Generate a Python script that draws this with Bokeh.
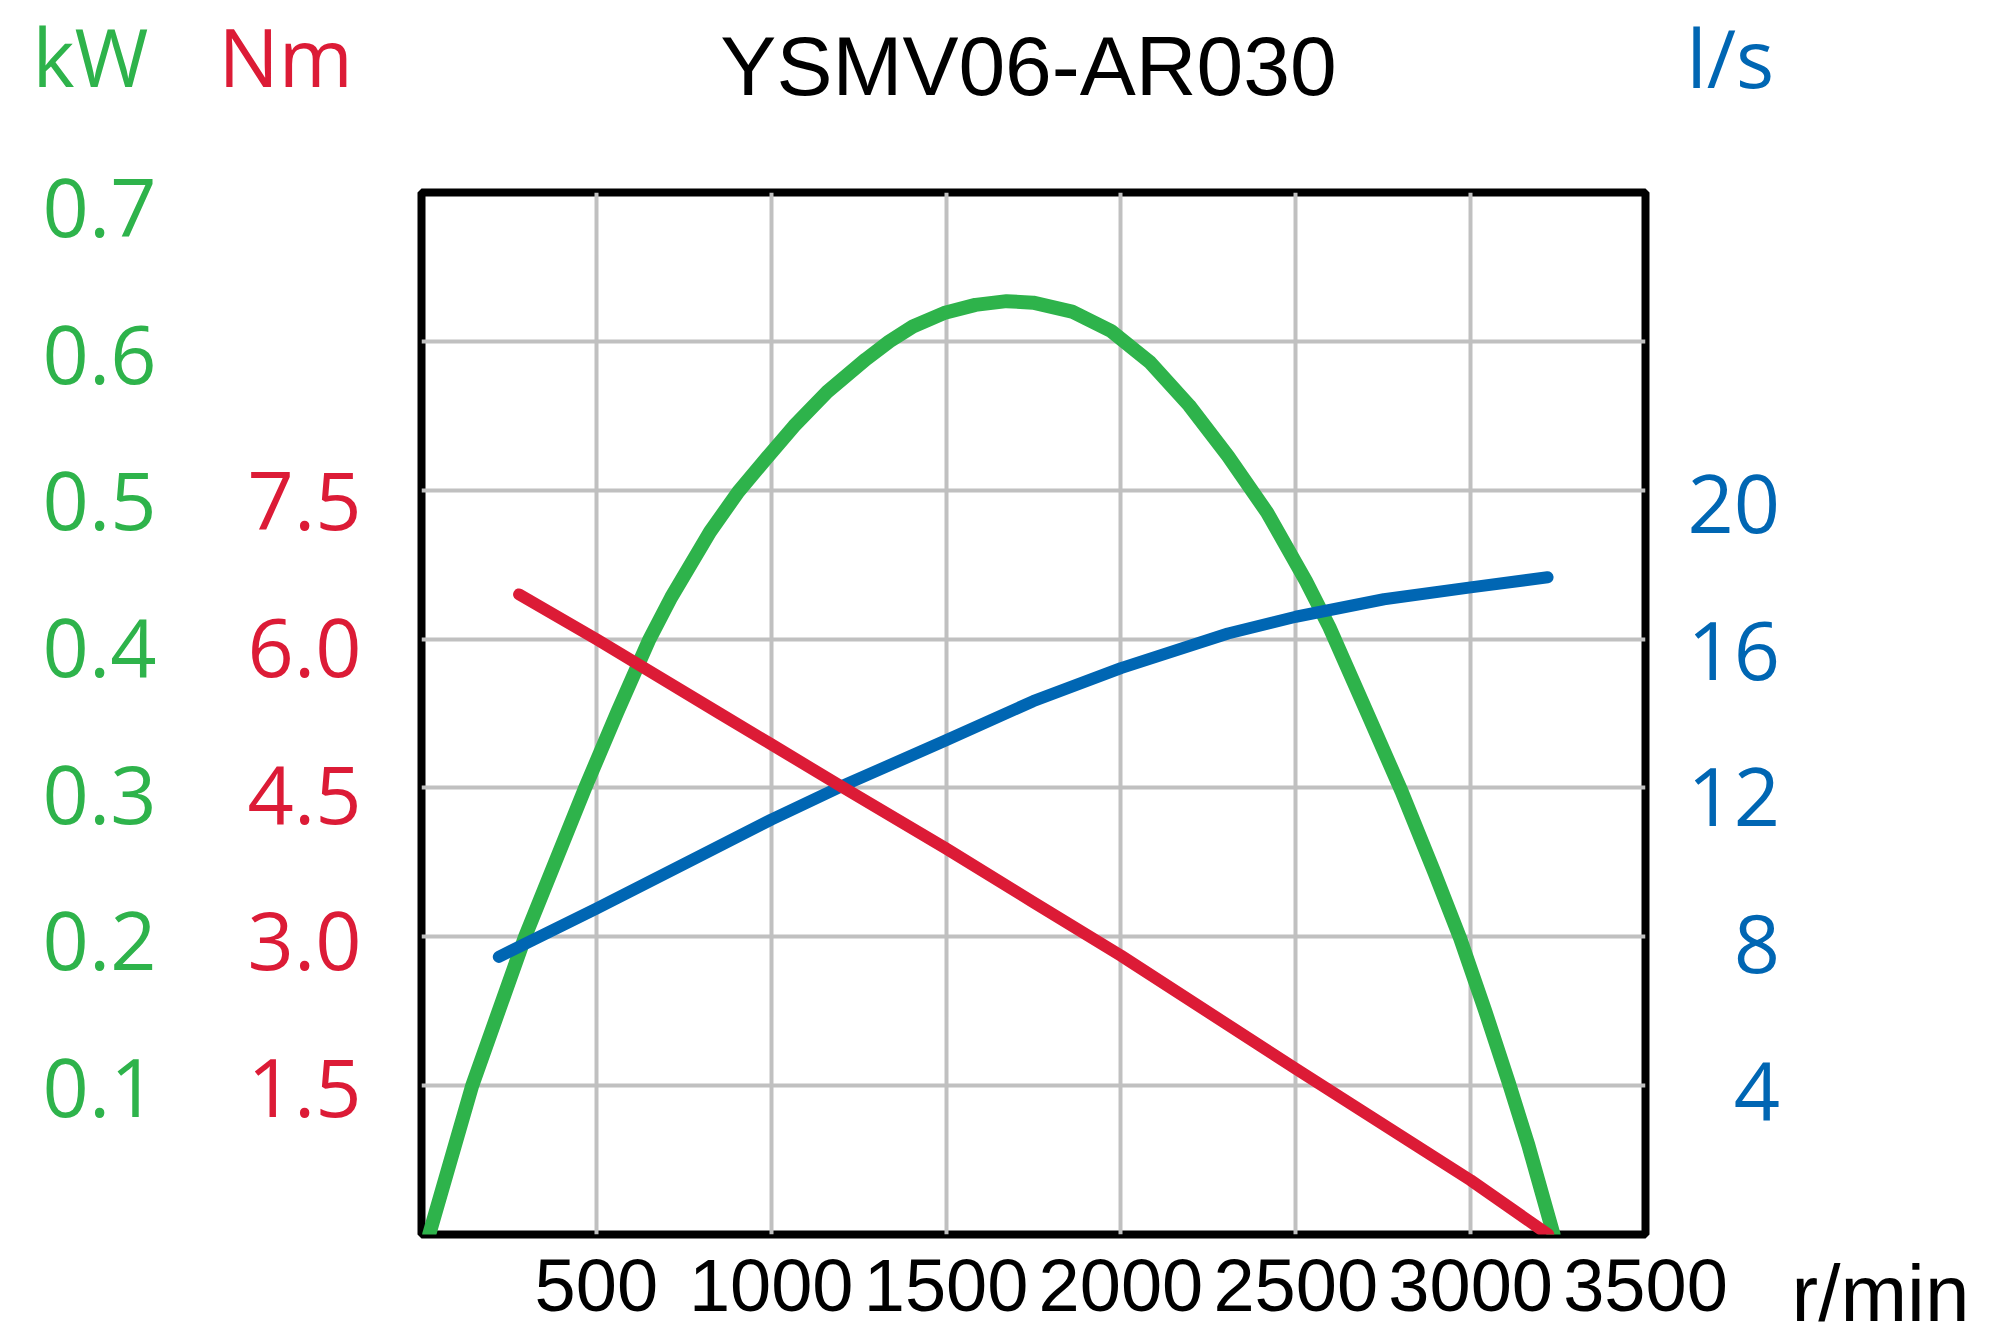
from bokeh.plotting import figure
from bokeh.models import (LinearAxis, Range1d, FixedTicker, PrintfTickFormatter, Grid)
from bokeh.layouts import column, row
from bokeh.core.properties import value
from bokeh.embed import file_html
from bokeh.resources import INLINE

# ---------------- data ----------------
title_text = "YSMV06-AR030"
unit_power = "kW"
unit_torque = "Nm"
unit_flow = "l/s"
unit_speed = "r/min"

speed_ticks = [500, 1000, 1500, 2000, 2500, 3000, 3500]
speed_grid = [500, 1000, 1500, 2000, 2500, 3000]
power_ticks = [0.1, 0.2, 0.3, 0.4, 0.5, 0.6, 0.7]
power_grid = [0.1, 0.2, 0.3, 0.4, 0.5, 0.6]
torque_ticks = [1.5, 3.0, 4.5, 6.0, 7.5]
flow_ticks = [4, 8, 12, 16, 20]

power_rpm = [22, 145, 296, 468, 560, 650, 714, 825, 906, 981, 1065, 1160, 1271,
             1338, 1405, 1494, 1584, 1673, 1749, 1860, 1972, 2083, 2195, 2306,
             2418, 2529, 2596, 2705, 2802, 2897, 2970, 3042, 3109, 3165, 3237]
power_kw = [0.0, 0.1, 0.2, 0.3, 0.351, 0.399, 0.428, 0.472, 0.499, 0.520, 0.543,
            0.566, 0.588, 0.600, 0.610, 0.619, 0.6245, 0.627, 0.626, 0.620, 0.607,
            0.586, 0.557, 0.523, 0.485, 0.439, 0.408, 0.350, 0.298, 0.243, 0.199,
            0.150, 0.102, 0.060, 0.0]

torque_rpm = [279, 500, 853, 1000, 1193, 1500, 1749, 2000, 2500, 3000, 3222]
torque_nm = [6.45, 6.00, 5.25, 4.94, 4.53, 3.89, 3.35, 2.81, 1.67, 0.547, 0.0]

flow_rpm = [221, 500, 781, 1000, 1193, 1500, 1749, 2000, 2306, 2500, 2752, 3000, 3220]
flow_ls = [7.46, 8.76, 10.1, 11.15, 12.01, 13.28, 14.33, 15.22, 16.15, 16.6,
           17.07, 17.39, 17.66]

X_MAX = 3500
P_MAX = 0.7
T_MAX = 10.5
F_MAX = 28
# tick labels in the original sit on a slightly tighter pitch than the grid
LBL_LO, LBL_HI = 0.0003, 1.0151

GREEN = "#2EB34B"
RED = "#DC1B36"
BLUE = "#0066B3"
GRID = "#C0C0C0"

W, H = 1985, 1343
HEAD_H = 130
MAIN_W = 1790
FRAME_TOP, FRAME_BOTTOM, FRAME_LEFT, FRAME_RIGHT = 192, 1234, 421, 1645
BODY_H = H - HEAD_H
B_TOP = FRAME_TOP - HEAD_H
B_BOTTOM = BODY_H - B_TOP - (FRAME_BOTTOM - FRAME_TOP)


def strip_grids(f):
    f.center = [r for r in f.center if not isinstance(r, Grid)]


def style_axis(ax, color, font, size, standoff):
    ax.axis_line_color = None
    ax.major_tick_line_color = None
    ax.minor_tick_line_color = None
    ax.major_tick_out = 0
    ax.major_tick_in = 0
    ax.minor_tick_out = 0
    ax.minor_tick_in = 0
    ax.major_label_text_color = color
    ax.major_label_text_font = font
    ax.major_label_text_font_size = size
    ax.major_label_standoff = standoff


# ---------------- main chart ----------------
p = figure(width=MAIN_W, height=BODY_H,
           x_range=Range1d(0, X_MAX), y_range=Range1d(0, P_MAX),
           output_backend="svg", toolbar_location=None,
           y_axis_location=None,
           min_border_left=FRAME_LEFT, min_border_right=MAIN_W - FRAME_RIGHT,
           min_border_top=B_TOP, min_border_bottom=B_BOTTOM)
p.extra_y_ranges = {
    "nm": Range1d(0, T_MAX),
    "flow": Range1d(0, F_MAX),
    "kw_lbl": Range1d(P_MAX * LBL_LO, P_MAX * LBL_HI),
    "nm_lbl": Range1d(T_MAX * LBL_LO, T_MAX * LBL_HI),
    "flow_lbl": Range1d(F_MAX * LBL_LO, F_MAX * LBL_HI),
}

p.background_fill_color = "white"
p.border_fill_color = "white"
p.outline_line_color = "black"
p.outline_line_width = 8
p.outline_line_alpha = 1.0

strip_grids(p)
p.add_layout(Grid(dimension=0, ticker=FixedTicker(ticks=speed_grid),
                  grid_line_color=GRID, grid_line_width=4), "center")
p.add_layout(Grid(dimension=1, ticker=FixedTicker(ticks=power_grid),
                  grid_line_color=GRID, grid_line_width=4), "center")

xa = p.xaxis[0]
xa.ticker = FixedTicker(ticks=speed_ticks)
style_axis(xa, "black", "Liberation Sans", "74px", 25)

nm_axis = LinearAxis(y_range_name="nm_lbl", ticker=FixedTicker(ticks=torque_ticks),
                     formatter=PrintfTickFormatter(format="%.1f"))
style_axis(nm_axis, RED, "Open Sans", "81px", 60)
p.add_layout(nm_axis, "left")

kw_axis = LinearAxis(y_range_name="kw_lbl", ticker=FixedTicker(ticks=power_ticks),
                     formatter=PrintfTickFormatter(format="%.1f"))
style_axis(kw_axis, GREEN, "Open Sans", "81px", 88)
p.add_layout(kw_axis, "left")

flow_axis = LinearAxis(y_range_name="flow_lbl", ticker=FixedTicker(ticks=flow_ticks))
flow_axis.major_label_overrides = {4: "\u20074", 8: "\u20078"}
style_axis(flow_axis, BLUE, "Open Sans", "81px", 42)
p.add_layout(flow_axis, "right")

p.line(power_rpm, power_kw, line_color=GREEN, line_width=14,
       line_cap="round", line_join="round")
p.line(flow_rpm, flow_ls, y_range_name="flow", line_color=BLUE, line_width=12,
       line_cap="round", line_join="round")
p.line(torque_rpm, torque_nm, y_range_name="nm", line_color=RED, line_width=12,
       line_cap="round", line_join="round")

# ---------------- right strip: speed unit as a bottom-axis label ----------------
side = figure(width=W - MAIN_W, height=BODY_H,
              x_range=Range1d(MAIN_W, W), y_range=Range1d(0, 1),
              output_backend="svg", toolbar_location=None,
              y_axis_location=None,
              min_border_left=0, min_border_right=0,
              min_border_top=B_TOP, min_border_bottom=B_BOTTOM)
strip_grids(side)
side.outline_line_color = None
side.background_fill_color = "white"
side.border_fill_color = "white"
sa = side.xaxis[0]
unit_pos = 1880
sa.ticker = FixedTicker(ticks=[unit_pos])
sa.major_label_overrides = {unit_pos: unit_speed}
style_axis(sa, "black", "Liberation Sans", "80px", 14)

# ---------------- header strip (page-pixel coordinates) ----------------
head = figure(width=W, height=HEAD_H,
              x_range=Range1d(0, W), y_range=Range1d(HEAD_H, 0),
              output_backend="svg", toolbar_location=None,
              x_axis_location=None, y_axis_location=None, min_border=0)
strip_grids(head)
head.outline_line_color = None
head.background_fill_color = "white"
head.border_fill_color = "white"

BASE_SHIFT = 33  # text anchor sits this far above the visible baseline


def put(f, txt, x, y, color, font, size, align="left"):
    f.text(x=[x], y=[y - BASE_SHIFT], text=[txt], text_color=color,
           text_font=value(font), text_font_size=value(size),
           text_align=align, text_baseline="alphabetic")


put(head, title_text, 1028, 98, "black", "Liberation Sans", "84px", "center")
put(head, unit_power, 32, 88, GREEN, "Open Sans", "80px")
put(head, unit_torque, 218, 88, RED, "Open Sans", "80px")
put(head, unit_flow, 1686, 89, BLUE, "Open Sans", "80px")

layout = column(head, row(p, side))

open("out.html", "w").write(file_html(layout, INLINE))
